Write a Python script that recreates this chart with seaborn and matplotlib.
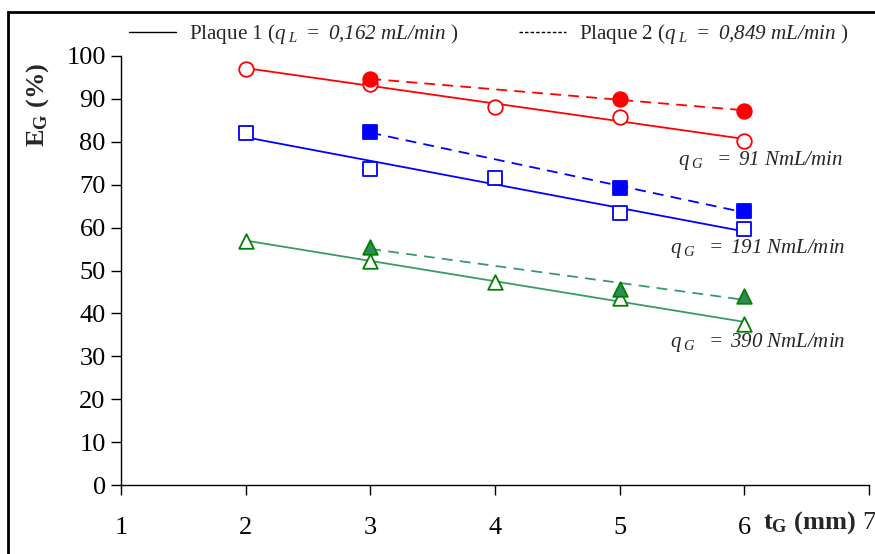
import numpy as np
import pandas as pd
import matplotlib
matplotlib.use("Agg")
import matplotlib.pyplot as plt
from matplotlib.lines import Line2D
from matplotlib.patches import Rectangle
import seaborn as sns

# ---- data ----
tg_p1 = [2, 3, 4, 5, 6]
tg_p2 = [3, 5, 6]
eg_91_p1 = [97.0, 93.5, 88.1, 85.8, 80.2]
eg_91_p2 = [94.6, 90.0, 87.2]
eg_191_p1 = [82.0, 73.7, 71.6, 63.4, 59.7]
eg_191_p2 = [82.3, 69.2, 63.9]
eg_390_p1 = [56.9, 52.2, 47.3, 43.6, 37.5]
eg_390_p2 = [55.5, 45.7, 44.1]
x_ticks = [1, 2, 3, 4, 5, 6, 7]
y_ticks = [0, 10, 20, 30, 40, 50, 60, 70, 80, 90, 100]
legend_labels = ["Plaque 1", "Plaque 2"]
ql_labels = ["0,162", "0,849"]
qg_labels = ["91", "191", "390"]

sns.set_theme(style="white")
plt.rcParams['font.family'] = ['Liberation Serif', 'DejaVu Serif']
plt.rcParams['mathtext.fontset'] = 'custom'
plt.rcParams['mathtext.rm'] = 'Liberation Serif:italic'
plt.rcParams['mathtext.it'] = 'Liberation Serif:italic'
plt.rcParams['mathtext.bf'] = 'Liberation Serif:bold'

fig = plt.figure(figsize=(8.75, 5.54), dpi=100)
ax = fig.add_axes([121/875, 1-485/554, (869-121)/875, (485-56)/554])

series = [
    (tg_p1, eg_91_p1, "o", "red", "white", "red", "-"),
    (tg_p2, eg_91_p2, "o", "red", "red", "red", "--"),
    (tg_p1, eg_191_p1, "s", "blue", "white", "blue", "-"),
    (tg_p2, eg_191_p2, "s", "blue", "blue", "blue", "--"),
    (tg_p1, eg_390_p1, "^", "#008000", "white", "#3a9a66", "-"),
    (tg_p2, eg_390_p2, "^", "#008000", "#2E8B57", "#3a9a66", "--"),
]
for xs, ys, mk, ec, fc, lc, ls in series:
    df = pd.DataFrame({"tg": xs, "eg": ys})
    sns.regplot(data=df, x="tg", y="eg", ax=ax, ci=None, truncate=True,
                marker=mk,
                scatter_kws=dict(s=110 if mk != "s" else 95, facecolors=fc,
                                 edgecolors=ec, linewidths=1.3, zorder=3, alpha=1),
                line_kws=dict(color=lc, lw=1.3, ls=ls,
                              dashes=(6, 4) if ls == "--" else (None, None), zorder=2))

ax.set_xlim(1, 7)
ax.set_ylim(0, 100)
ax.set_xticks(x_ticks)
ax.set_yticks(y_ticks)
ax.set_xticklabels([str(t) if t != 7 else "" for t in x_ticks])
ax.set_yticklabels([str(t) for t in y_ticks])
ax.set_xlabel("")
ax.set_ylabel("")
for s in ["top", "right"]:
    ax.spines[s].set_visible(False)
for s in ["left", "bottom"]:
    ax.spines[s].set_color("black")
    ax.spines[s].set_linewidth(1.0)
ax.tick_params(axis="both", which="major", direction="out", length=7, width=1,
               color="black", labelsize=19, labelcolor="black", left=True, bottom=True)
ax.tick_params(axis="x", pad=16)
ax.tick_params(axis="y", pad=4)

# "7" tick label placed close to axis label as in reference
fig.text(869/875, 1-523/554, "7", fontsize=19, ha="center", va="center")
fig.text(809/875, 1-523/554, r"$\mathbf{t_G}$ $\mathbf{(mm)}$", fontsize=19,
         ha="center", va="center", fontweight="bold")
fig.text(38/875, 1-105/554, r"$\mathbf{E_G}$ $\mathbf{(\%)}$", fontsize=19,
         rotation=90, ha="center", va="center")

# annotations
pos = [(760, 160), (758, 249), (758, 342)]
for lab, (px, py) in zip(qg_labels, pos):
    fig.text(px/875, 1-py/554, r"$q_{\ G}\ \ =\ " + lab + r"\ NmL/min$",
             fontsize=15, ha="center", va="center")

# legend
handles = [Line2D([], [], color="black", lw=1.0, ls="-"),
           Line2D([], [], color="black", lw=1.0, ls=(0, (2.5, 1.5)))]
labels = [legend_labels[i] + r" ($q_{\ L}\ =\ " + ql_labels[i].replace(",", "{,}") + r"\ mL/min$ )"
          for i in range(2)]
fig.legend(handles, labels, loc="center left", bbox_to_anchor=(121/875, 1-34/554),
           ncol=2, frameon=False, fontsize=15.2, handlelength=2.2, handletextpad=0.6,
           columnspacing=2.9, borderaxespad=0.0)

# figure border
fig.add_artist(Rectangle((8/875, -0.05), 1.2, 1-12/554+0.05, transform=fig.transFigure,
                         fill=False, edgecolor="black", lw=2.0))

fig.savefig("out.png", dpi=100)
